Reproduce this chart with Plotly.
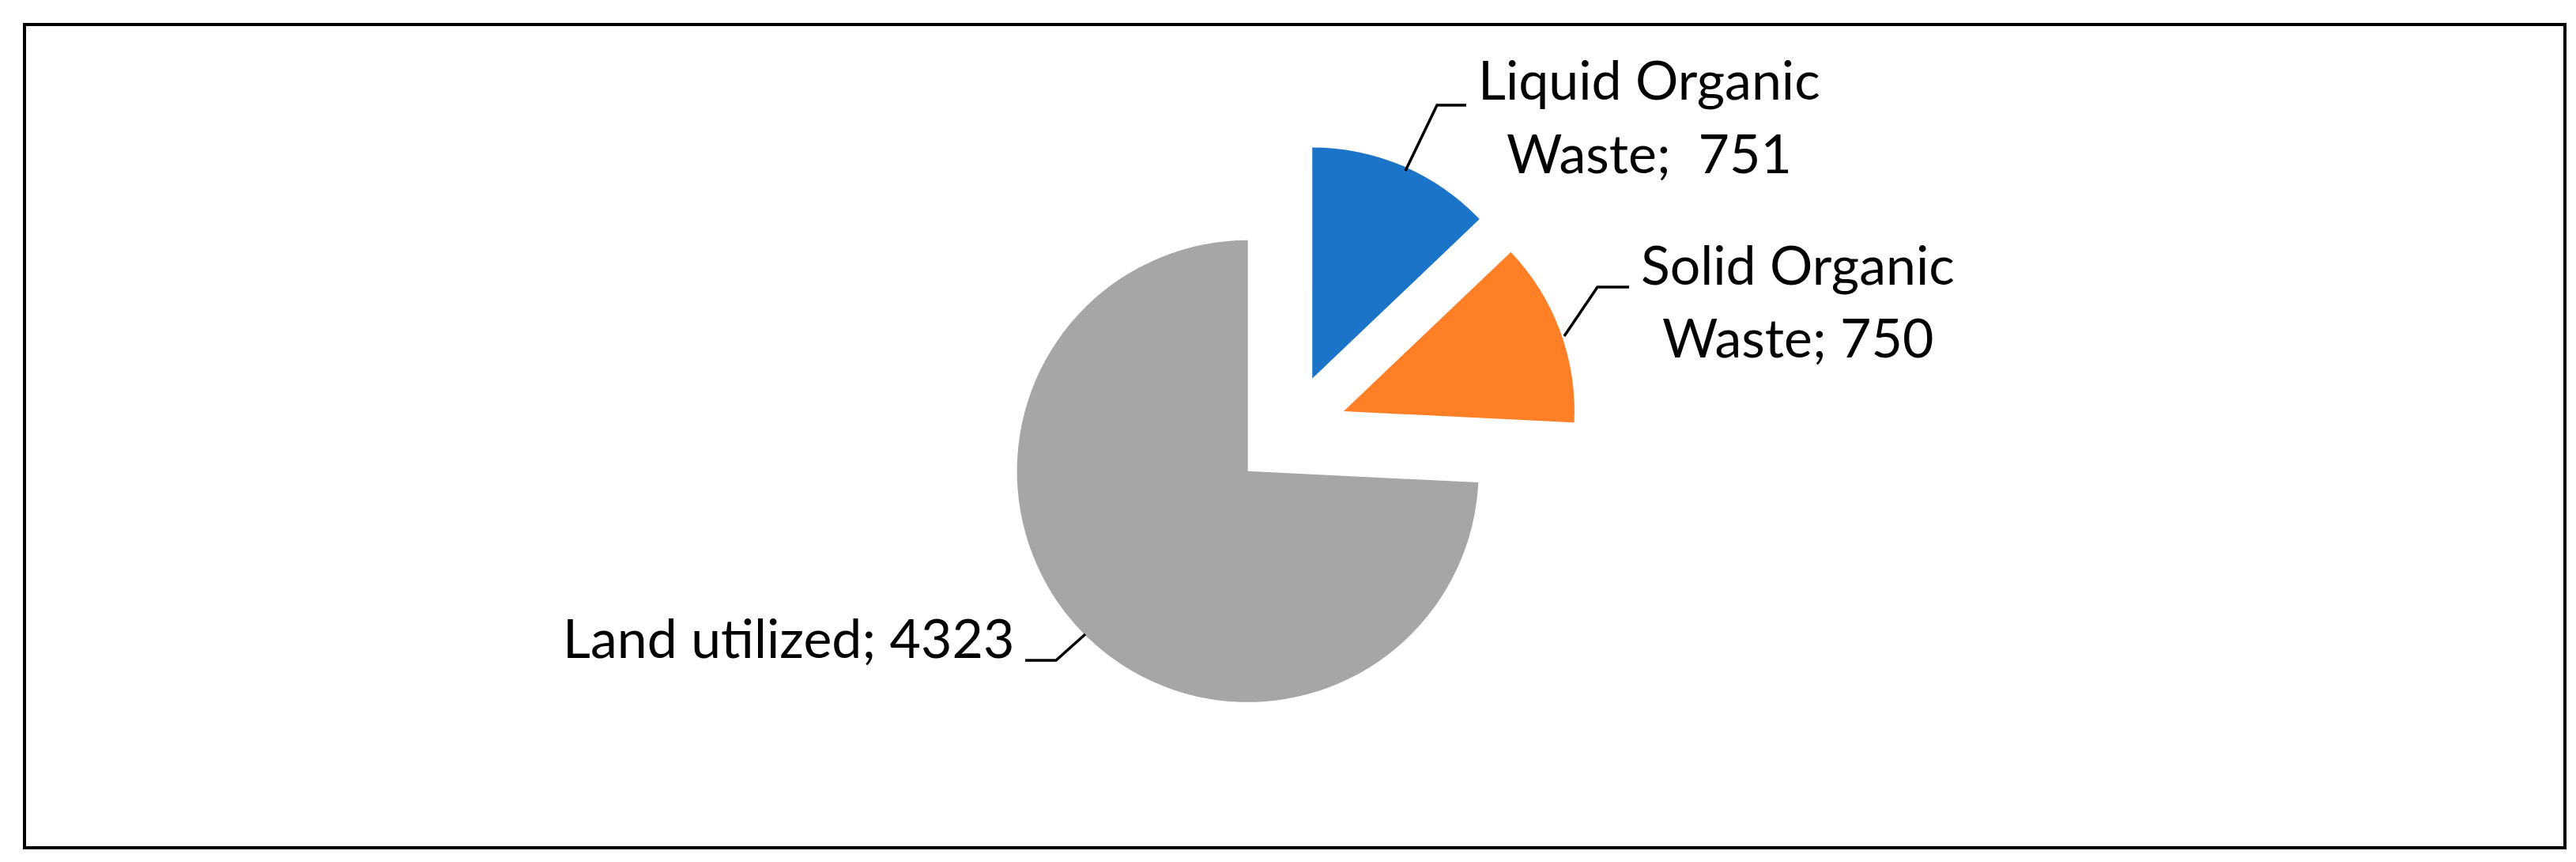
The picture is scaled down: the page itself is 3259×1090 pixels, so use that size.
import plotly.graph_objects as go

# Data
categories = ["Liquid Organic Waste", "Solid Organic Waste", "Land utilized"]
values = [751, 750, 4323]
label_lines = [["Liquid Organic", "Waste;\u00a0 751"],
               ["Solid Organic", "Waste; 750"],
               ["Land utilized; 4323"]]
colors = ["#1B74C8", "#FF7F27", "#A6A6A6"]

W, H = 3259, 1090

def px(x):
    return x / W

def py(y):
    return 1 - y / H

fig = go.Figure()
fig.add_trace(go.Pie(
    labels=categories,
    values=values,
    marker=dict(colors=colors, line=dict(width=0)),
    sort=False,
    direction="clockwise",
    rotation=0,
    pull=[0.25, 0.25, 0.25],
    textinfo="none",
    hoverinfo="label+value",
    domain=dict(x=[px(1258.5), px(1988.5)], y=[py(902.5), py(172.5)]),
))

font = dict(family="Lato, 'Open Sans', sans-serif", size=68, color="#000000")

# label placements: x centre and the vertical centre of the first line, line pitch
label_pos = [(2078, 91), (2266, 325), (990, 797)]
line_pitch = 93
for lines, (x, y) in zip(label_lines, label_pos):
    for i, line in enumerate(lines):
        fig.add_annotation(
            text=line, x=px(x), y=py(y + i * line_pitch), xref="paper", yref="paper",
            xanchor="center", yanchor="middle", showarrow=False, align="center",
            font=font,
        )

# leader lines
leaders = [
    [(1847, 125), (1810, 125), (1770, 208)],
    [(2053, 355), (2013, 355), (1971, 417)],
    [(1289, 827), (1328, 827), (1365, 794)],
]
for pts in leaders:
    path = "M " + " L ".join(f"{px(x)},{py(y)}" for x, y in pts)
    fig.add_shape(type="path", path=path, xref="paper", yref="paper",
                  line=dict(color="black", width=3.5))

# outer border
fig.add_shape(type="rect", xref="paper", yref="paper",
              x0=px(23), x1=px(3237), y0=py(1064), y1=py(23),
              line=dict(color="black", width=4), fillcolor="rgba(0,0,0,0)")

fig.update_layout(
    width=W, height=H,
    margin=dict(l=0, r=0, t=0, b=0),
    paper_bgcolor="white", plot_bgcolor="white",
    showlegend=False,
)

fig.write_html("out.html")
